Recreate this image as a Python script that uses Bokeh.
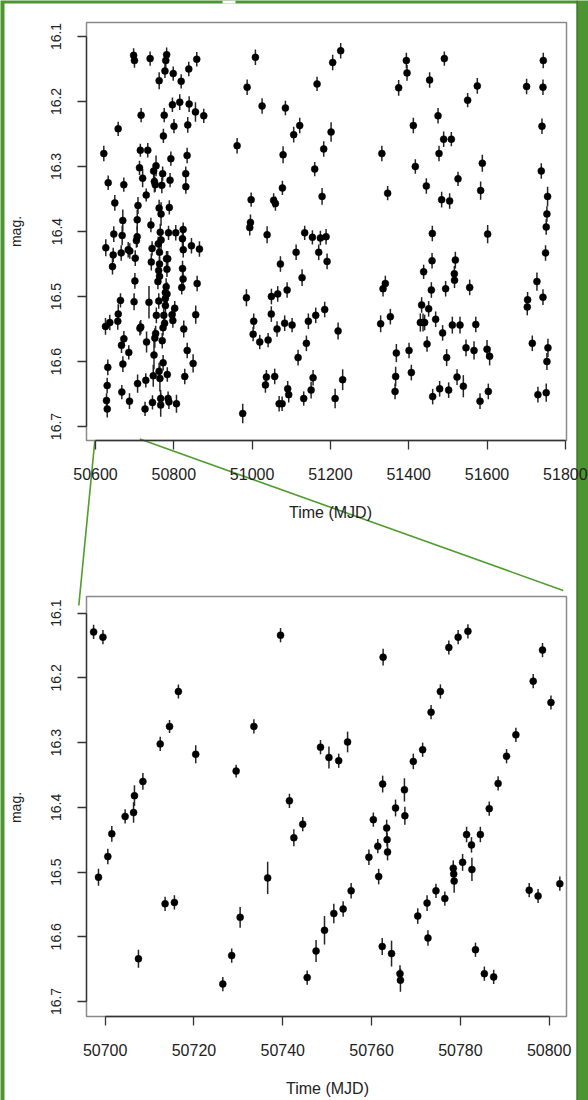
from bokeh.plotting import figure
from bokeh.models import Range1d, FixedTicker, LinearAxis, ColumnDataSource
from bokeh.embed import file_html
from bokeh.resources import INLINE

GREEN = "#4d9433"
DARK_GREEN = "#3e7d29"
LINE_GREEN = "#4f9d2d"
FONT = "Liberation Sans"

# ---------------- data (MJD, magnitude, error) ----------------
# points inside the zoom window (bottom panel; also part of the full curve)
zoom_mjd = [50697.4, 50698.5, 50699.5, 50700.6, 50701.5, 50704.5, 50706.4, 50706.6,
            50707.5, 50708.5, 50712.4, 50713.5, 50714.5, 50715.6, 50716.5, 50720.4,
            50726.5, 50728.5, 50729.5, 50730.4, 50733.5, 50736.6, 50739.5, 50741.5,
            50742.5, 50744.5, 50745.5, 50747.5, 50748.5, 50749.4, 50750.4, 50751.5,
            50752.6, 50753.6, 50754.6, 50755.4, 50759.4, 50760.4, 50761.4, 50761.6,
            50762.4, 50762.5, 50762.6, 50763.4, 50763.5, 50763.6, 50764.5, 50765.4,
            50766.4, 50766.5, 50767.4, 50767.5, 50769.4, 50770.4, 50771.5, 50772.5,
            50772.7, 50773.4, 50774.5, 50775.5, 50776.5, 50777.4, 50778.4, 50778.5,
            50778.6, 50779.5, 50780.5, 50781.4, 50781.7, 50782.5, 50782.6, 50783.4,
            50784.5, 50785.4, 50786.5, 50787.5, 50788.5, 50790.4, 50792.5, 50795.5,
            50796.4, 50797.5, 50798.5, 50800.4, 50802.4]
zoom_mag = [16.129, 16.508, 16.137, 16.476, 16.441, 16.414, 16.408, 16.382,
            16.634, 16.360, 16.302, 16.549, 16.275, 16.547, 16.221, 16.318,
            16.673, 16.629, 16.344, 16.570, 16.275, 16.509, 16.134, 16.390,
            16.447, 16.426, 16.663, 16.622, 16.307, 16.590, 16.323, 16.564,
            16.328, 16.557, 16.299, 16.529, 16.477, 16.419, 16.460, 16.507,
            16.615, 16.364, 16.168, 16.432, 16.450, 16.469, 16.626, 16.401,
            16.657, 16.667, 16.373, 16.413, 16.329, 16.568, 16.311, 16.548,
            16.602, 16.253, 16.529, 16.221, 16.541, 16.153, 16.494, 16.503,
            16.514, 16.137, 16.485, 16.442, 16.128, 16.458, 16.496, 16.620,
            16.442, 16.657, 16.402, 16.662, 16.363, 16.321, 16.288, 16.528,
            16.205, 16.537, 16.157, 16.238, 16.518]
zoom_err = [0.011, 0.013, 0.011, 0.012, 0.012, 0.011, 0.016, 0.016,
            0.014, 0.013, 0.011, 0.011, 0.010, 0.011, 0.011, 0.014,
            0.011, 0.011, 0.010, 0.016, 0.011, 0.025, 0.011, 0.011,
            0.013, 0.011, 0.011, 0.017, 0.011, 0.022, 0.017, 0.015,
            0.011, 0.012, 0.016, 0.012, 0.012, 0.011, 0.011, 0.012,
            0.013, 0.013, 0.013, 0.013, 0.011, 0.013, 0.020, 0.013,
            0.013, 0.018, 0.018, 0.014, 0.012, 0.012, 0.011, 0.012,
            0.012, 0.011, 0.011, 0.011, 0.011, 0.011, 0.012, 0.012,
            0.018, 0.011, 0.013, 0.012, 0.011, 0.012, 0.018, 0.011,
            0.012, 0.011, 0.011, 0.011, 0.011, 0.011, 0.011, 0.011,
            0.011, 0.011, 0.011, 0.011, 0.011]

# first season, before the zoom window
pre_mjd = [50621.2, 50625.5, 50626.3, 50628.1, 50629.8, 50630.0, 50631.4, 50632.4,
           50636.5, 50643.4, 50645.2, 50646.7, 50649.3, 50656.9, 50657.9, 50658.1,
           50663.8, 50665.6, 50666.4, 50667.2, 50668.1, 50669.7, 50669.9, 50672.3,
           50672.5, 50683.5, 50685.0, 50686.8, 50687.6]
pre_mag = [16.280, 16.546, 16.425, 16.660, 16.637, 16.673, 16.609, 16.325,
           16.540, 16.454, 16.436, 16.404, 16.356, 16.538, 16.242, 16.527,
           16.506, 16.433, 16.575, 16.647, 16.406, 16.383, 16.604, 16.328,
           16.565, 16.428, 16.586, 16.661, 16.430]
pre_err = [0.012, 0.013, 0.013, 0.011, 0.012, 0.013, 0.012, 0.011,
           0.012, 0.012, 0.011, 0.012, 0.012, 0.013, 0.011, 0.015,
           0.011, 0.012, 0.012, 0.011, 0.015, 0.017, 0.012, 0.011,
           0.012, 0.012, 0.011, 0.012, 0.012]

# first season, after the zoom window
post_mjd = [50805.0, 50806.8, 50815.2, 50818.8, 50820.3, 50822.1, 50822.3, 50823.7,
            50823.9, 50824.1, 50825.4, 50828.0, 50830.5, 50830.7, 50834.0, 50834.2,
            50835.6, 50838.2, 50839.2, 50845.1, 50849.3, 50855.3, 50856.0, 50858.6,
            50859.6, 50865.5, 50876.5]
post_mag = [16.402, 16.665, 16.201, 16.169, 16.486, 16.411, 16.457, 16.473,
            16.397, 16.428, 16.550, 16.623, 16.311, 16.331, 16.283, 16.583,
            16.236, 16.150, 16.204, 16.422, 16.603, 16.216, 16.528, 16.135,
            16.480, 16.427, 16.222]
post_err = [0.012, 0.014, 0.012, 0.011, 0.011, 0.012, 0.012, 0.012,
            0.011, 0.012, 0.013, 0.012, 0.011, 0.011, 0.012, 0.012,
            0.012, 0.011, 0.012, 0.012, 0.014, 0.015, 0.014, 0.011,
            0.012, 0.012, 0.011]

# second season
s2_mjd = [50961.7, 50976.0, 50985.5, 50987.3, 50994.0, 50995.8, 50997.5, 51002.6,
          51004.1, 51008.4, 51019.5, 51025.5, 51034.0, 51036.5, 51038.3, 51040.9,
          51049.0, 51049.3, 51055.0, 51057.7, 51059.5, 51063.7, 51065.4, 51069.0,
          51072.3, 51076.6, 51077.4, 51079.1, 51083.2, 51085.0, 51089.4, 51090.9,
          51093.5, 51102.1, 51106.2, 51112.4, 51117.4, 51121.6, 51127.6, 51131.8,
          51134.3, 51138.6, 51143.7, 51150.7, 51154.0, 51155.7, 51159.9, 51162.5,
          51165.9, 51170.1, 51174.4, 51178.7, 51182.9, 51185.4, 51188.9, 51191.5,
          51201.7, 51205.8, 51212.0, 51219.6, 51226.2, 51231.3]
s2_mag = [16.268, 16.680, 16.502, 16.178, 16.394, 16.386, 16.351, 16.558,
          16.538, 16.132, 16.570, 16.207, 16.636, 16.624, 16.405, 16.567,
          16.527, 16.500, 16.352, 16.623, 16.357, 16.550, 16.496, 16.665,
          16.450, 16.665, 16.333, 16.282, 16.541, 16.210, 16.490, 16.642,
          16.651, 16.544, 16.251, 16.432, 16.594, 16.237, 16.471, 16.657,
          16.402, 16.572, 16.538, 16.644, 16.409, 16.625, 16.304, 16.529,
          16.173, 16.432, 16.410, 16.346, 16.273, 16.520, 16.408, 16.446,
          16.247, 16.140, 16.657, 16.553, 16.122, 16.628]
s2_err = [0.012, 0.015, 0.013, 0.012, 0.012, 0.012, 0.011, 0.011,
          0.012, 0.012, 0.011, 0.012, 0.012, 0.011, 0.013, 0.011,
          0.012, 0.012, 0.011, 0.012, 0.011, 0.012, 0.012, 0.012,
          0.012, 0.011, 0.011, 0.013, 0.012, 0.011, 0.012, 0.012,
          0.012, 0.011, 0.012, 0.012, 0.012, 0.012, 0.013, 0.011,
          0.011, 0.012, 0.012, 0.013, 0.011, 0.012, 0.011, 0.012,
          0.011, 0.012, 0.011, 0.013, 0.012, 0.012, 0.012, 0.012,
          0.015, 0.012, 0.015, 0.013, 0.012, 0.016]

# third season
s3_mjd = [51328.3, 51331.4, 51334.4, 51340.3, 51346.2, 51353.1, 51365.1, 51366.6,
          51368.4, 51374.3, 51394.0, 51395.7, 51400.8, 51406.7, 51411.8, 51416.9,
          51429.7, 51433.0, 51436.6, 51438.1, 51440.7, 51445.0, 51446.8, 51450.9,
          51453.4, 51457.8, 51459.6, 51460.3, 51461.2, 51468.8, 51474.9, 51477.4,
          51479.0, 51484.1, 51486.6, 51489.3, 51491.0, 51494.3, 51496.9, 51502.0,
          51504.5, 51508.9, 51511.4, 51516.5, 51517.0, 51519.1, 51523.4, 51525.9,
          51531.0, 51539.5, 51546.3, 51550.5, 51555.7, 51566.8, 51571.3, 51575.2,
          51582.1, 51583.7, 51588.0, 51600.0, 51601.6, 51603.3, 51606.7]
s3_mag = [16.542, 16.280, 16.488, 16.480, 16.341, 16.531, 16.646, 16.623,
          16.587, 16.179, 16.137, 16.156, 16.583, 16.617, 16.237, 16.300,
          16.540, 16.513, 16.540, 16.462, 16.540, 16.330, 16.573, 16.519,
          16.167, 16.490, 16.445, 16.403, 16.654, 16.535, 16.222, 16.280,
          16.642, 16.351, 16.556, 16.258, 16.134, 16.488, 16.594, 16.644,
          16.353, 16.258, 16.544, 16.465, 16.475, 16.444, 16.624, 16.319,
          16.544, 16.638, 16.579, 16.198, 16.486, 16.583, 16.543, 16.176,
          16.661, 16.337, 16.295, 16.581, 16.404, 16.646, 16.592]
s3_err = [0.013, 0.012, 0.012, 0.012, 0.011, 0.012, 0.012, 0.015,
          0.014, 0.012, 0.012, 0.012, 0.012, 0.012, 0.012, 0.011,
          0.014, 0.012, 0.014, 0.011, 0.012, 0.012, 0.012, 0.012,
          0.012, 0.012, 0.012, 0.012, 0.012, 0.012, 0.012, 0.012,
          0.012, 0.012, 0.012, 0.012, 0.011, 0.012, 0.013, 0.012,
          0.012, 0.011, 0.013, 0.012, 0.012, 0.013, 0.012, 0.011,
          0.013, 0.017, 0.013, 0.011, 0.012, 0.014, 0.012, 0.012,
          0.012, 0.014, 0.013, 0.014, 0.014, 0.012, 0.014]

# fourth season
s4_mjd = [51701.1, 51702.8, 51703.6, 51715.6, 51727.5, 51730.0, 51738.6, 51740.4,
          51742.9, 51742.9, 51743.7, 51749.5, 51751.2, 51751.2, 51753.0, 51753.0,
          51754.7, 51755.6]
s4_mag = [16.177, 16.516, 16.505, 16.572, 16.477, 16.651, 16.307, 16.238,
          16.178, 16.501, 16.137, 16.433, 16.393, 16.648, 16.373, 16.600,
          16.346, 16.579]
s4_err = [0.012, 0.013, 0.012, 0.012, 0.014, 0.012, 0.012, 0.012,
          0.012, 0.012, 0.012, 0.012, 0.012, 0.014, 0.012, 0.013,
          0.015, 0.014]

full_mjd = pre_mjd + zoom_mjd + post_mjd + s2_mjd + s3_mjd + s4_mjd
full_mag = pre_mag + zoom_mag + post_mag + s2_mag + s3_mag + s4_mag
full_err = pre_err + zoom_err + post_err + s2_err + s3_err + s4_err

full_xticks = [50600, 50800, 51000, 51200, 51400, 51600, 51800]
zoom_xticks = [50700, 50720, 50740, 50760, 50780, 50800]
mag_ticks = [16.1, 16.2, 16.3, 16.4, 16.5, 16.6, 16.7]

# axis limits of the two panels (magnitude: faint at bottom, bright at top)
full_xlim = (50577.0, 51803.0)
full_ylim = (16.7215, 16.0785)   # (bottom, top)
zoom_xlim = (50695.8, 50803.9)
zoom_ylim = (16.7232, 16.0742)   # (bottom, top)

# ---------------- page geometry (pixels, y downwards) ----------------
PAGE_W, PAGE_H = 588, 1100
TOP_BOX = (86, 566, 22, 440)       # left, right, top, bottom
ZOOM_BOX = (86, 566, 596, 1016)

p = figure(width=PAGE_W, height=PAGE_H,
           x_range=Range1d(0, PAGE_W), y_range=Range1d(PAGE_H, 0),
           x_axis_location=None, y_axis_location=None,
           output_backend="svg", toolbar_location=None, title_location=None,
           min_border=0, min_border_left=0, min_border_right=0,
           min_border_top=0, min_border_bottom=0,
           background_fill_color=GREEN, border_fill_color=GREEN,
           outline_line_color=None)
p.grid.visible = False


def page_range_x(lim, box):
    l, r = box[0], box[1]
    k = (lim[1] - lim[0]) / (r - l)
    return Range1d(lim[0] - l * k, lim[0] + (PAGE_W - l) * k)


def page_range_y(lim, box):
    t, b = box[2], box[3]
    k = (lim[0] - lim[1]) / (b - t)          # value per pixel downwards
    return Range1d(lim[1] + (PAGE_H - t) * k, lim[1] - t * k)


p.extra_x_ranges = {"top_x": page_range_x(full_xlim, TOP_BOX),
                    "zoom_x": page_range_x(zoom_xlim, ZOOM_BOX)}
p.extra_y_ranges = {"top_y": page_range_y(full_ylim, TOP_BOX),
                    "zoom_y": page_range_y(zoom_ylim, ZOOM_BOX)}

# white card with a small pointer notch at the top, darker edge on the right
p.quad(left=[4], right=[576], top=[3], bottom=[PAGE_H], fill_color="white", line_color=None)
p.quad(left=[222], right=[235], top=[0], bottom=[3], fill_color="white", line_color=None)
p.quad(left=[576], right=[577.5], top=[0], bottom=[PAGE_H], fill_color=DARK_GREEN, line_color=None)

# zoom connector lines
p.segment(x0=[94.3, 139.3], y0=[440.5, 438.5], x1=[78.3, 562.7], y1=[605.0, 590.0],
          line_color=LINE_GREEN, line_width=1.6)


def draw_panel(mjd, mag, err, xname, yname, xlim, ylim, xticks, box):
    lo = [m - e for m, e in zip(mag, err)]
    hi = [m + e for m, e in zip(mag, err)]
    src = ColumnDataSource(dict(x=mjd, y=mag, lo=lo, hi=hi))
    p.segment(x0="x", y0="lo", x1="x", y1="hi", source=src,
              line_color="#262626", line_width=1.5,
              x_range_name=xname, y_range_name=yname)
    p.scatter("x", "y", source=src, size=7, fill_color="black",
              line_color="black", line_width=0.5,
              x_range_name=xname, y_range_name=yname)
    # plot box
    p.quad(left=[xlim[0]], right=[xlim[1]], top=[ylim[1]], bottom=[ylim[0]],
           fill_color=None, line_color="#8a8a8a", line_width=1.5,
           x_range_name=xname, y_range_name=yname)

    xa = LinearAxis(x_range_name=xname, fixed_location=box[3],
                    ticker=FixedTicker(ticks=xticks), bounds=(xticks[0], xticks[-1]),
                    axis_label="Time (MJD)")
    ya = LinearAxis(y_range_name=yname, fixed_location=box[0],
                    ticker=FixedTicker(ticks=mag_ticks),
                    bounds=(mag_ticks[0], mag_ticks[-1]), axis_label="mag.")
    for ax in (xa, ya):
        ax.major_tick_out = 9
        ax.major_tick_in = 0
        ax.minor_tick_out = 0
        ax.minor_tick_in = 0
        ax.axis_line_color = "#333333"
        ax.axis_line_width = 1.3
        ax.major_tick_line_color = "#333333"
        ax.major_tick_line_width = 1.3
        ax.major_label_text_font = FONT
        ax.major_label_text_color = "#222222"
        ax.axis_label_text_font = FONT
        ax.axis_label_text_font_style = "normal"
        ax.axis_label_text_color = "#222222"
    xa.major_label_text_font_size = "16px"
    xa.axis_label_text_font_size = "16px"
    xa.major_label_standoff = 18
    xa.axis_label_standoff = 21
    ya.major_label_orientation = "vertical"
    ya.major_label_text_font_size = "14px"
    ya.axis_label_text_font_size = "14px"
    ya.major_label_standoff = 16
    ya.axis_label_standoff = 25
    p.add_layout(xa, "below")
    p.add_layout(ya, "left")


draw_panel(full_mjd, full_mag, full_err, "top_x", "top_y",
           full_xlim, full_ylim, full_xticks, TOP_BOX)
draw_panel(zoom_mjd, zoom_mag, zoom_err, "zoom_x", "zoom_y",
           zoom_xlim, zoom_ylim, zoom_xticks, ZOOM_BOX)

open("out.html", "w").write(file_html(p, INLINE))
